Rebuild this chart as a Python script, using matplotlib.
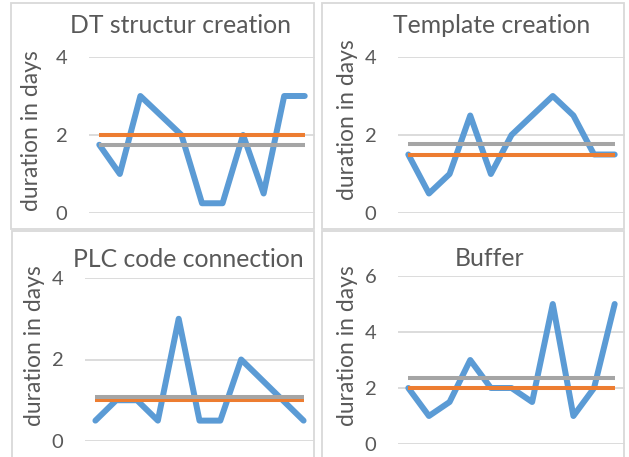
import matplotlib
matplotlib.use("Agg")
import matplotlib.pyplot as plt
from matplotlib.patches import Rectangle
import numpy as np

plt.rcParams['font.family'] = ['Lato', 'DejaVu Sans']

# durations (days) of the 11 runs for each task
titles = ["DT structur creation", "Template creation",
          "PLC code connection", "Buffer"]
dt_structure = [1.75, 1.0, 3.0, 2.5, 2.0, 0.25, 0.25, 2.0, 0.5, 3.0, 3.0]
template = [1.5, 0.5, 1.0, 2.5, 1.0, 2.0, 2.5, 3.0, 2.5, 1.5, 1.5]
plc_code = [0.5, 1.0, 1.0, 0.5, 3.0, 0.5, 0.5, 2.0, 1.5, 1.0, 0.5]
buffer_days = [2.0, 1.0, 1.5, 3.0, 2.0, 2.0, 1.5, 5.0, 1.0, 2.0, 5.0]
y_max = [4, 4, 4, 6]

W, H = 629, 457
BLUE = '#5B9BD5'
ORANGE = '#ED7D31'
GRAY = '#A5A5A5'
GRID = '#D9D9D9'
TXT = '#595959'

fig = plt.figure(figsize=(W / 100, H / 100), dpi=100)

def px_rect(x0, y0, x1, y1):
    # pixel box (top-left origin) -> figure fraction [left, bottom, w, h]
    return [x0 / W, 1 - y1 / H, (x1 - x0) / W, (y1 - y0) / H]

# chart frames
frames = [(11, 3, 314, 229), (322, 3, 624, 229),
          (12, 231, 314, 470), (322, 231, 624, 470)]
for f in frames:
    l, b, w, h = px_rect(*f)
    fig.add_artist(Rectangle((l, b), w, h, transform=fig.transFigure,
                             fill=False, edgecolor=GRID, lw=1.3))

# plot areas (pixels)
areas = [(89, 57, 315, 213), (398, 57, 625, 213),
         (85, 278, 314, 441), (398, 276, 625, 444)]
title_pos = [(181, 33), (492, 33), (188, 267), (490, 266)]
ylab_pos = [(32, 131), (347, 120), (35, 346), (347, 346)]

series = [dt_structure, template, plc_code, buffer_days]

for i, vals in enumerate(series):
    ax = fig.add_axes(px_rect(*areas[i]))
    x = np.arange(len(vals))
    mean = np.mean(vals)
    med = np.median(vals)
    ax.plot(x, vals, color=BLUE, lw=4.3, solid_joinstyle='round',
            solid_capstyle='round', zorder=3)
    ax.plot(x, [med] * len(vals), color=ORANGE, lw=2.9, zorder=4,
            solid_capstyle='butt')
    ax.plot(x, [mean] * len(vals), color=GRAY, lw=2.9, zorder=5,
            solid_capstyle='butt')
    ax.set_xlim(-0.5, len(vals) - 0.5)
    ax.set_ylim(0, y_max[i])
    ax.set_yticks(np.arange(0, y_max[i] + 1, 2))
    ax.set_xticks([])
    ax.grid(axis='y', color=GRID, lw=1.3, zorder=0)
    ax.set_axisbelow(True)
    for s in ax.spines.values():
        s.set_visible(False)
    ax.tick_params(axis='y', length=0, pad=15.5, labelsize=14.5,
                   labelcolor=TXT)
    ax.patch.set_alpha(0)
    tx, ty = title_pos[i]
    fig.text(tx / W, 1 - ty / H, titles[i], ha='center', va='baseline',
             fontsize=17.8, color=TXT)
    lx, ly = ylab_pos[i]
    fig.text(lx / W, 1 - ly / H, "duration in days", rotation=90,
             ha='center', va='center', fontsize=16.5, color=TXT)

fig.savefig('out.png', dpi=100)
